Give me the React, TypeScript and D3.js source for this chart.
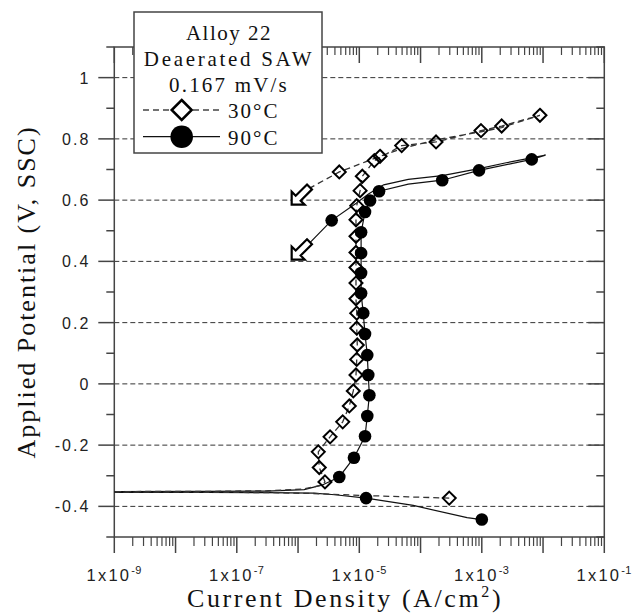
import React from 'react';
import * as d3 from 'd3';

// ---- data (current density A/cm², potential V vs SSC) ----
const xDecades = [-9, -8, -7, -6, -5, -4, -3, -2, -1];
const xLabelExps = [-9, -7, -5, -3, -1];
const yMajor = [-0.4, -0.2, 0, 0.2, 0.4, 0.6, 0.8, 1.0];
const yMinor = [-0.5, -0.3, -0.1, 0.1, 0.3, 0.5, 0.7, 0.9, 1.1];
const legendTitle = ['Alloy 22', 'Deaerated SAW', '0.167 mV/s'];
const legendSpacing = [1.5, 2.7, 2.2];
const seriesNames = ['30°C', '90°C'];

const markers30: [number, number][] = [
  [2.94e-4, -0.373],
  [2.75e-6, -0.32], [2.22e-6, -0.273], [2.14e-6, -0.222], [3.33e-6, -0.173],
  [5.36e-6, -0.124], [6.87e-6, -0.072], [7.98e-6, -0.023], [8.83e-6, 0.029],
  [9.08e-6, 0.08], [9.27e-6, 0.127], [9.08e-6, 0.182], [9.08e-6, 0.231],
  [8.83e-6, 0.278], [8.83e-6, 0.329], [8.83e-6, 0.38], [8.83e-6, 0.429],
  [8.83e-6, 0.482], [8.83e-6, 0.536], [9.08e-6, 0.582], [1.03e-5, 0.631],
  [1.12e-5, 0.678], [1.76e-5, 0.729], [2.18e-5, 0.743], [4.92e-5, 0.778],
  [1.79e-4, 0.79], [9.7e-4, 0.827], [2.11e-3, 0.842], [8.9e-3, 0.877],
  [4.71e-6, 0.692],
];

const line30: [number, number][] = [
  [2.94e-4, -0.373], [6.3e-5, -0.369], [1e-5, -0.364], [1.78e-6, -0.358],
  [3.16e-7, -0.355], [3.16e-8, -0.354], [2.5e-10, -0.353],
  [2.5e-10, -0.352], [3.16e-8, -0.351], [3.16e-7, -0.349], [1.26e-6, -0.343],
  [2.5e-6, -0.33], [2.75e-6, -0.32], [2.22e-6, -0.273], [2.14e-6, -0.222],
  [3.33e-6, -0.173], [5.36e-6, -0.124], [6.87e-6, -0.072], [7.98e-6, -0.023],
  [8.83e-6, 0.029], [9.08e-6, 0.08], [9.27e-6, 0.127], [9.08e-6, 0.182],
  [9.08e-6, 0.231], [8.83e-6, 0.278], [8.83e-6, 0.329], [8.83e-6, 0.38],
  [8.83e-6, 0.429], [8.83e-6, 0.482], [8.83e-6, 0.536], [9.08e-6, 0.582],
  [1.03e-5, 0.631], [1.12e-5, 0.678], [1.76e-5, 0.729], [4.92e-5, 0.778],
  [1.79e-4, 0.79], [9.7e-4, 0.827], [2.11e-3, 0.842], [8.9e-3, 0.877],
  [2.11e-3, 0.837], [9.7e-4, 0.823], [1.79e-4, 0.797], [4.92e-5, 0.768],
  [2.18e-5, 0.743], [1.26e-5, 0.725], [4.71e-6, 0.692], [1.58e-6, 0.64],
];

const markers90: [number, number][] = [
  [1.0e-3, -0.443], [1.29e-5, -0.373],
  [4.71e-6, -0.304], [8.18e-6, -0.241], [1.24e-5, -0.171], [1.35e-5, -0.105],
  [1.46e-5, -0.037], [1.4e-5, 0.029], [1.35e-5, 0.094], [1.24e-5, 0.163],
  [1.16e-5, 0.231], [1.07e-5, 0.296], [1.07e-5, 0.362], [1.07e-5, 0.427],
  [1.07e-5, 0.495], [1.24e-5, 0.561], [1.5e-5, 0.599], [2.1e-5, 0.629],
  [2.26e-4, 0.665], [9.0e-4, 0.697], [6.53e-3, 0.733],
  [3.54e-6, 0.534],
];

const line90: [number, number][] = [
  [1.0e-3, -0.443], [5.75e-4, -0.437], [7.6e-5, -0.397], [1.29e-5, -0.373],
  [4.0e-6, -0.362], [1.78e-6, -0.357], [3.16e-7, -0.355], [3.16e-8, -0.354],
  [2.5e-10, -0.354],
  [2.5e-10, -0.352], [3.16e-8, -0.351], [3.16e-7, -0.35], [1.26e-6, -0.345],
  [2.5e-6, -0.33], [4.71e-6, -0.304], [8.18e-6, -0.241], [1.24e-5, -0.171],
  [1.35e-5, -0.105], [1.46e-5, -0.037], [1.4e-5, 0.029], [1.35e-5, 0.094],
  [1.24e-5, 0.163], [1.16e-5, 0.231], [1.07e-5, 0.296], [1.07e-5, 0.362],
  [1.07e-5, 0.427], [1.07e-5, 0.495], [1.24e-5, 0.561], [1.5e-5, 0.599],
  [2.1e-5, 0.629], [6.3e-5, 0.652], [2.26e-4, 0.665], [9.0e-4, 0.697],
  [6.53e-3, 0.733], [1.1e-2, 0.747],
  [2.5e-3, 0.722], [9.0e-4, 0.703], [2.26e-4, 0.68], [6.3e-5, 0.668],
  [2.5e-5, 0.65], [1.41e-5, 0.62], [8.9e-6, 0.59], [3.54e-6, 0.534],
  [1.58e-6, 0.462],
];

// reverse-scan direction arrows (tip positions)
const arrowTips: [number, number][] = [
  [7.87e-7, 0.585],
  [7.87e-7, 0.406],
];

// ---- layout ----
const W = 633;
const H = 613;
const L = 114.3;
const R = 604.3;
const T = 47;
const B = 537;

const x = d3.scaleLog().domain([1e-9, 1e-1]).range([L, R]);
const y = d3.scaleLinear().domain([-0.5, 1.1]).range([B, T]);

const lineGen = d3
  .line<[number, number]>()
  .x((d) => x(d[0]))
  .y((d) => y(d[1]));

const minorX: number[] = [];
xDecades.slice(0, -1).forEach((e) => {
  for (let k = 2; k <= 9; k++) minorX.push(k * Math.pow(10, e));
});

const fmtY = (v: number) => {
  const r = Math.round(v * 10) / 10;
  return r === 0 ? '0' : String(r);
};

const diamond = (s: number) => `M0,${-s}L${s},0L0,${s}L${-s},0Z`;

// block arrow pointing down-left, tip at origin
const arrowPath = 'M0,0L0,-13L4.03,-8.97L15.34,-20.28L20.28,-15.34L8.97,-4.03L13,0Z';

const FRAME = '#444';
const sans = 'Liberation Sans, Arial, sans-serif';
const serif = 'Liberation Serif, Times New Roman, serif';

export default function App() {
  return (
    <svg
      width={W}
      height={H}
      viewBox={`0 0 ${W} ${H}`}
      style={{ position: 'absolute', left: 0, top: 0, background: '#fff' }}
    >
      <rect x={0} y={0} width={W} height={H} fill="#fff" />
      <defs>
        <clipPath id="plotClip">
          <rect x={L} y={T} width={R - L} height={B - T} />
        </clipPath>
      </defs>

      {/* gridlines */}
      {yMajor.map((v) => (
        <line
          key={'g' + v}
          x1={L}
          x2={R}
          y1={y(v)}
          y2={y(v)}
          stroke="#333"
          strokeWidth={1}
          strokeDasharray="5,3"
        />
      ))}

      {/* frame */}
      <rect x={L} y={T} width={R - L} height={B - T} fill="none" stroke={FRAME} strokeWidth={1.5} />

      {/* y ticks left (outward) and right (inward), both pointing left */}
      {yMajor.map((v) => (
        <g key={'ym' + v}>
          <line x1={L - 16} x2={L} y1={y(v)} y2={y(v)} stroke={FRAME} strokeWidth={1.5} />
          <line x1={R - 16} x2={R} y1={y(v)} y2={y(v)} stroke={FRAME} strokeWidth={1.5} />
        </g>
      ))}
      {yMinor.map((v) => (
        <g key={'yn' + v}>
          <line x1={L - 8} x2={L} y1={y(v)} y2={y(v)} stroke={FRAME} strokeWidth={1.5} />
          <line x1={R - 8} x2={R} y1={y(v)} y2={y(v)} stroke={FRAME} strokeWidth={1.5} />
        </g>
      ))}

      {/* x ticks: bottom pointing down (outward), top pointing down (inward) */}
      {xDecades.map((e) => {
        const px = x(Math.pow(10, e));
        return (
          <g key={'xm' + e}>
            <line x1={px} x2={px} y1={B} y2={B + 16} stroke={FRAME} strokeWidth={1.5} />
            <line x1={px} x2={px} y1={T} y2={T + 16} stroke={FRAME} strokeWidth={1.5} />
          </g>
        );
      })}
      {minorX.map((v, i) => {
        const px = x(v);
        return (
          <g key={'xn' + i}>
            <line x1={px} x2={px} y1={B} y2={B + 9} stroke={FRAME} strokeWidth={1.2} />
            <line x1={px} x2={px} y1={T} y2={T + 8} stroke={FRAME} strokeWidth={1.2} />
          </g>
        );
      })}

      {/* y tick labels */}
      {yMajor.map((v) => (
        <text
          key={'yl' + v}
          x={L - 24}
          y={y(v) + 6}
          textAnchor="end"
          fontFamily={sans}
          fontSize={16}
          letterSpacing={2}
          fill="#222"
        >
          {fmtY(v)}
        </text>
      ))}

      {/* x tick labels */}
      {xLabelExps.map((e) => (
        <text
          key={'xl' + e}
          x={x(Math.pow(10, e))}
          y={581}
          textAnchor="middle"
          fontFamily={sans}
          fontSize={16.5}
          letterSpacing={2.2}
          fill="#222"
        >
          1x10
          <tspan fontSize={11} dy={-7} letterSpacing={0.5}>
            {String(e)}
          </tspan>
        </text>
      ))}

      {/* axis titles */}
      <text
        x={187}
        y={607}
        fontFamily={serif}
        fontSize={26}
        letterSpacing={2.6}
        fill="#111"
      >
        Current Density (A/cm
        <tspan fontSize={16} dy={-10}>2</tspan>
        <tspan dy={10}>)</tspan>
      </text>
      <text
        transform={`translate(35,${(T + B) / 2}) rotate(-90)`}
        textAnchor="middle"
        fontFamily={serif}
        fontSize={26}
        letterSpacing={2}
        fill="#111"
      >
        Applied Potential (V, SSC)
      </text>

      {/* data */}
      <g clipPath="url(#plotClip)">
        <path d={lineGen(line90) || ''} fill="none" stroke="#111" strokeWidth={1.2} />
        <path
          d={lineGen(line30) || ''}
          fill="none"
          stroke="#333"
          strokeWidth={1.3}
          strokeDasharray="6,4"
        />
        {markers30.map((d, i) => (
          <path
            key={'d' + i}
            d={diamond(6.5)}
            transform={`translate(${x(d[0])},${y(d[1])})`}
            fill="none"
            stroke="#000"
            strokeWidth={2}
          />
        ))}
        {markers90.map((d, i) => (
          <circle key={'c' + i} cx={x(d[0])} cy={y(d[1])} r={6.3} fill="#000" />
        ))}
        {arrowTips.map((d, i) => (
          <path
            key={'a' + i}
            d={arrowPath}
            transform={`translate(${x(d[0])},${y(d[1])})`}
            fill="#fff"
            stroke="#000"
            strokeWidth={2.2}
            strokeLinejoin="miter"
          />
        ))}
      </g>

      {/* legend */}
      <g>
        <rect x={134} y={12} width={188} height={141} fill="#fff" stroke={FRAME} strokeWidth={1.5} />
        {legendTitle.map((t, i) => (
          <text
            key={'lt' + i}
            x={229}
            y={40 + i * 26}
            textAnchor="middle"
            fontFamily={serif}
            fontSize={21}
            letterSpacing={legendSpacing[i]}
            fill="#111"
          >
            {t}
          </text>
        ))}
        <line x1={143} x2={220} y1={110} y2={110} stroke="#444" strokeWidth={1.3} strokeDasharray="6,4" />
        <path d={diamond(10)} transform="translate(181.7,110)" fill="#fff" stroke="#000" strokeWidth={2.5} />
        <text x={228} y={118} fontFamily={serif} fontSize={21} letterSpacing={2} fill="#111">
          {seriesNames[0]}
        </text>
        <line x1={143} x2={220} y1={136.7} y2={136.7} stroke="#111" strokeWidth={1.2} />
        <circle cx={181.7} cy={136.7} r={11.3} fill="#000" />
        <text x={228} y={145} fontFamily={serif} fontSize={21} letterSpacing={2} fill="#111">
          {seriesNames[1]}
        </text>
      </g>
    </svg>
  );
}
